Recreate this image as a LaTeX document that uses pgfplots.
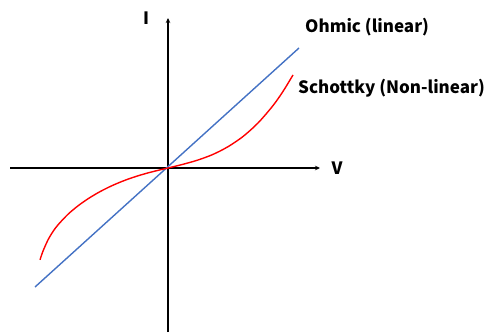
\documentclass[border=0pt]{standalone}
\usepackage{pgfplots}
\pgfplotsset{compat=1.18}
\usetikzlibrary{arrows.meta}
\usepackage{fontspec}
\setmainfont{Noto Sans CJK KR}
\definecolor{ohm}{HTML}{4472C4}
\newcommand{\lab}{\fontsize{17bp}{20bp}\selectfont\bfseries}
\begin{document}
\begin{tikzpicture}
\begin{axis}[
  scale only axis, width=310bp, height=314bp,
  xmin=-158, xmax=152, ymin=-164, ymax=150,
  axis lines=middle, xtick=\empty, ytick=\empty,
  axis line style={line width=1.3bp, -{Stealth[length=5bp,width=4.5bp]}},
  clip=false,
]
\addplot[ohm, line width=1.4bp] coordinates {(-133,-119) (131,120)};
\addplot[red, line width=1.4bp, smooth] coordinates {
(-128,-91.8) (-125,-83.1) (-120,-71.9) (-115,-63.5) (-110,-56.85) (-100,-46.25)
(-90,-37.85) (-80,-30.8) (-70,-24.75) (-60,-19.55) (-50,-15.05) (-40,-11.15)
(-30,-7.8) (-20,-4.9) (-10,-2.35) (0,0)
(15,3.7) (30,8) (45,13.6) (60,21.3) (75,31.5) (90,45) (105,62.4) (115,76.6) (125,93)};
\node[anchor=center, inner sep=0, font=\lab] at (axis cs:-22,150) {I};
\node[anchor=center, inner sep=0, font=\lab] at (axis cs:169,0) {V};
\node[anchor=west, inner sep=0, font=\lab] at (axis cs:137,141) {Ohmic (linear)};
\node[anchor=west, inner sep=0, font=\lab] at (axis cs:130,80) {Schottky (Non-linear)};
\coordinate (bl) at (axis cs:-168,-164);
\coordinate (tr) at (axis cs:322,168);
\end{axis}
\pgfresetboundingbox
\path (bl) rectangle (tr);
\end{tikzpicture}
\end{document}
